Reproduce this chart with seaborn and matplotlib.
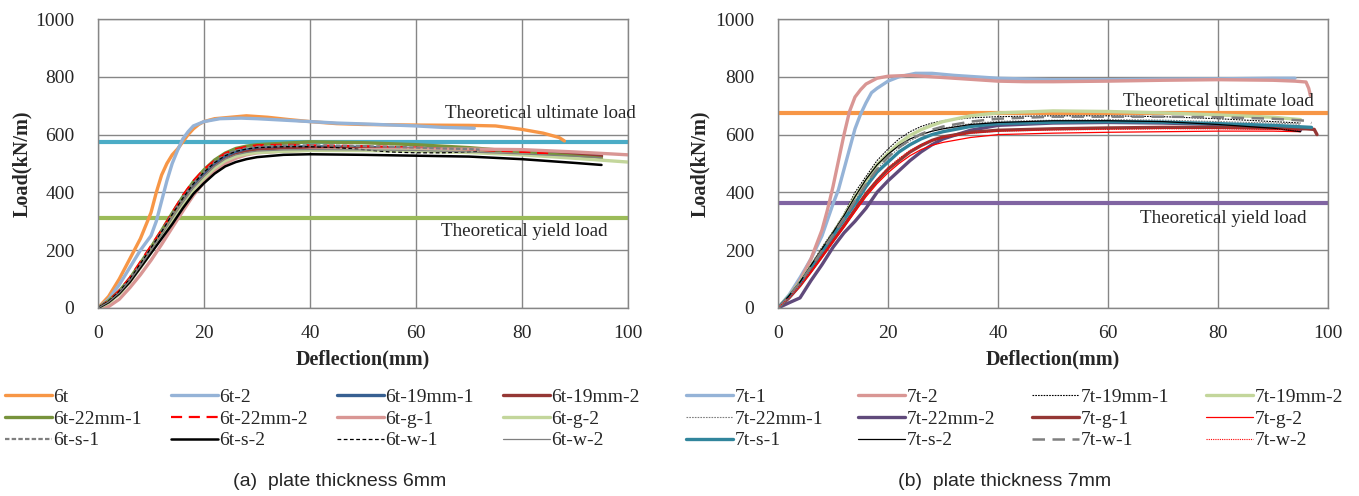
import matplotlib
matplotlib.use("Agg")
import matplotlib.pyplot as plt
from matplotlib.ticker import MultipleLocator
import seaborn as sns

# ---- data: plate thickness 6mm ----
t6_x = [0, 2, 4, 6, 8, 10, 11, 12, 13, 14, 15, 16, 17, 18, 19, 20, 22, 25, 28, 32, 36, 40, 45, 50, 60, 70, 75, 80, 84, 87, 88]
t6_y = [0, 40, 100, 170, 240, 330, 400, 460, 500, 530, 550, 575, 600, 620, 635, 645, 655, 660, 665, 660, 652, 645, 638, 635, 633, 632, 630, 618, 605, 590, 578]
t6_2_x = [0, 2, 4, 6, 8, 10, 11, 12, 13, 14, 15, 16, 17, 18, 20, 23, 27, 30, 35, 40, 45, 50, 60, 65, 71]
t6_2_y = [0, 30, 80, 140, 200, 250, 300, 370, 440, 500, 545, 585, 610, 630, 645, 655, 657, 655, 650, 645, 640, 637, 630, 625, 622]

c6_x = [0, 2, 4, 6, 8, 10, 12, 14, 16, 18, 20, 22, 24, 26, 28, 30, 35, 40, 50, 60, 70, 80, 90, 95]
t6_19_1_y = [0, 22, 55, 98, 150, 205, 260, 320, 375, 425, 465, 500, 525, 540, 548, 553, 557, 558, 556, 552, 547, 540, 533, 528]
t6_19_2_y = [0, 20, 50, 92, 142, 195, 250, 308, 362, 412, 452, 488, 513, 530, 540, 546, 551, 552, 552, 550, 545, 537, 530, 525]
t6_22_1_y = [0, 25, 58, 102, 155, 210, 268, 328, 385, 437, 478, 512, 536, 552, 560, 565, 570, 575, 572, 565, 555, 540, 525, 518]
t6_s_2_y = [0, 20, 50, 90, 140, 190, 240, 290, 345, 395, 432, 465, 490, 505, 515, 522, 530, 532, 530, 527, 524, 515, 502, 495]
t6_w_2_y = [0, 21, 52, 94, 145, 198, 252, 310, 365, 415, 455, 490, 515, 530, 538, 543, 547, 548, 547, 545, 540, 533, 525, 520]

t6_22_2_x = [0, 2, 4, 6, 8, 10, 12, 14, 16, 18, 20, 22, 24, 26, 28, 30, 35, 40, 50, 60, 70, 80, 85]
t6_22_2_y = [0, 25, 60, 105, 160, 215, 270, 330, 390, 440, 480, 510, 535, 550, 558, 563, 565, 563, 560, 555, 548, 540, 535]

cg_x = [0, 2, 4, 6, 8, 10, 12, 14, 16, 18, 20, 22, 24, 26, 28, 30, 35, 40, 50, 60, 70, 80, 90, 100]
t6_g_1_y = [0, 5, 30, 70, 115, 165, 220, 278, 335, 390, 435, 472, 500, 518, 530, 537, 543, 546, 548, 550, 550, 548, 540, 530]
t6_g_2_y = [0, 18, 48, 90, 140, 192, 248, 305, 360, 410, 450, 485, 510, 525, 533, 538, 542, 545, 545, 543, 538, 530, 518, 505]

cs_x = [0, 2, 4, 6, 8, 10, 12, 14, 16, 18, 20, 22, 24, 26, 28, 30, 35, 40, 45, 50, 55, 60, 65, 70, 72]
t6_s_1_y = [0, 22, 55, 100, 152, 208, 265, 325, 382, 432, 472, 505, 530, 545, 553, 558, 562, 563, 562, 560, 558, 555, 552, 550, 548]
t6_w_1_y = [0, 24, 57, 100, 153, 208, 264, 324, 380, 430, 470, 503, 527, 542, 550, 555, 558, 558, 555, 548, 540, 537, 537, 540, 542]

# ---- data: plate thickness 7mm ----
t7_1_x = [0, 2, 4, 6, 8, 10, 11, 12, 13, 14, 15, 16, 17, 18, 20, 22, 25, 28, 32, 36, 40, 50, 60, 70, 80, 90, 94]
t7_1_y = [0, 45, 105, 170, 250, 360, 410, 480, 550, 620, 670, 710, 745, 760, 785, 800, 812, 812, 805, 800, 795, 790, 790, 792, 793, 795, 795]
t7_2_x = [0, 2, 4, 6, 8, 9, 10, 11, 12, 13, 14, 15, 16, 18, 20, 24, 28, 32, 36, 40, 45, 50, 60, 70, 80, 90, 94, 96, 96.5, 96.8]
t7_2_y = [0, 40, 95, 170, 270, 340, 420, 510, 600, 680, 730, 755, 775, 795, 802, 805, 800, 795, 790, 785, 783, 783, 785, 788, 790, 788, 785, 782, 760, 735]

c7_x = [0, 2, 4, 6, 8, 10, 12, 14, 16, 18, 20, 22, 24, 26, 28, 30, 35, 40, 50, 60, 70, 80, 90, 95]
t7_19_1_y = [0, 45, 95, 150, 210, 265, 325, 400, 455, 510, 550, 585, 610, 628, 640, 648, 658, 662, 665, 665, 662, 655, 645, 640]
t7_19_2_y = [0, 42, 90, 145, 200, 258, 318, 385, 440, 495, 535, 570, 597, 617, 632, 645, 665, 675, 682, 680, 675, 668, 660, 652]
t7_22_1_y = [0, 40, 88, 143, 200, 256, 312, 372, 428, 480, 520, 553, 578, 598, 612, 622, 638, 646, 650, 652, 650, 645, 640, 636]
t7_22_2_y = [0, 18, 35, 95, 150, 210, 260, 300, 345, 400, 440, 475, 510, 540, 565, 585, 615, 632, 640, 642, 640, 635, 625, 615]
t7_g_2_y = [0, 33, 75, 123, 175, 228, 280, 333, 385, 430, 468, 500, 527, 548, 563, 573, 590, 600, 605, 608, 610, 612, 612, 610]
t7_s_2_y = [0, 42, 90, 148, 205, 262, 320, 385, 445, 495, 532, 562, 585, 600, 612, 620, 635, 642, 648, 648, 645, 635, 622, 610]
t7_w_2_y = [0, 36, 80, 130, 183, 236, 290, 345, 398, 445, 485, 518, 545, 565, 580, 590, 605, 612, 616, 618, 620, 620, 618, 615]

t7_g_1_x = [0, 2, 4, 6, 8, 10, 12, 14, 16, 18, 20, 22, 24, 26, 28, 30, 35, 40, 50, 60, 70, 80, 90, 96, 97.5, 98]
t7_g_1_y = [0, 35, 78, 128, 180, 233, 285, 340, 395, 440, 480, 510, 540, 562, 580, 592, 608, 615, 620, 623, 625, 625, 622, 620, 618, 600]
t7_s_1_x = [0, 2, 4, 6, 8, 10, 12, 14, 16, 18, 20, 22, 24, 26, 28, 30, 35, 40, 50, 60, 70, 80, 90, 97]
t7_s_1_y = [0, 40, 85, 140, 195, 250, 305, 360, 420, 470, 505, 540, 565, 585, 600, 610, 628, 638, 643, 645, 643, 638, 632, 625]
t7_w_1_x = [0, 2, 4, 6, 8, 10, 12, 14, 16, 18, 20, 22, 24, 26, 28, 30, 35, 40, 50, 60, 70, 80, 90, 96, 97]
t7_w_1_y = [0, 40, 87, 142, 198, 254, 310, 370, 428, 480, 522, 556, 582, 602, 617, 628, 645, 655, 662, 662, 662, 660, 655, 648, 640]

# theoretical loads (kN/m)
ult_6, yld_6 = 575, 313
ult_7, yld_7 = 675, 365

labels_6 = ["6t", "6t-2", "6t-19mm-1", "6t-19mm-2", "6t-22mm-1", "6t-22mm-2",
            "6t-g-1", "6t-g-2", "6t-s-1", "6t-s-2", "6t-w-1", "6t-w-2"]
labels_7 = ["7t-1", "7t-2", "7t-19mm-1", "7t-19mm-2", "7t-22mm-1", "7t-22mm-2",
            "7t-g-1", "7t-g-2", "7t-s-1", "7t-s-2", "7t-w-1", "7t-w-2"]

series_6 = [(t6_x, t6_y), (t6_2_x, t6_2_y), (c6_x, t6_19_1_y), (c6_x, t6_19_2_y),
            (c6_x, t6_22_1_y), (t6_22_2_x, t6_22_2_y), (cg_x, t6_g_1_y), (cg_x, t6_g_2_y),
            (cs_x, t6_s_1_y), (c6_x, t6_s_2_y), (cs_x, t6_w_1_y), (c6_x, t6_w_2_y)]
series_7 = [(t7_1_x, t7_1_y), (t7_2_x, t7_2_y), (c7_x, t7_19_1_y), (c7_x, t7_19_2_y),
            (c7_x, t7_22_1_y), (c7_x, t7_22_2_y), (t7_g_1_x, t7_g_1_y), (c7_x, t7_g_2_y),
            (t7_s_1_x, t7_s_1_y), (c7_x, t7_s_2_y), (t7_w_1_x, t7_w_1_y), (c7_x, t7_w_2_y)]

# (color, linewidth, linestyle)
styles_6 = [("#F79646", 2.4, "-"), ("#95B3D7", 2.4, "-"), ("#376092", 2.4, "-"), ("#953735", 2.4, "-"),
            ("#77933C", 2.4, "-"), ("#FF0000", 1.6, (0, (5, 3))), ("#D99694", 2.4, "-"), ("#C3D69B", 2.4, "-"),
            ("#7F7F7F", 1.6, (0, (2, 1))), ("#000000", 1.8, "-"), ("#000000", 0.9, (0, (3, 2))), ("#7F7F7F", 0.9, "-")]
styles_7 = [("#95B3D7", 2.4, "-"), ("#D99694", 2.4, "-"), ("#000000", 0.8, (0, (1.5, 1))), ("#C3D69B", 2.4, "-"),
            ("#7F7F7F", 0.8, (0, (1.5, 1))), ("#604A7B", 2.4, "-"), ("#953735", 2.4, "-"), ("#FF0000", 0.9, "-"),
            ("#31859C", 2.4, "-"), ("#000000", 0.9, "-"), ("#7F7F7F", 1.8, (0, (5, 3))), ("#FF0000", 0.8, (0, (1, 1)))]

sns.set_style("white")
plt.rcParams["font.family"] = ["Liberation Serif", "DejaVu Serif"]

fig = plt.figure(figsize=(13.59, 4.96), dpi=100)
ax_a = fig.add_axes([98 / 1359, 1 - 308 / 496, 530 / 1359, 289 / 496])
ax_b = fig.add_axes([778 / 1359, 1 - 308 / 496, 550 / 1359, 289 / 496])

GRID = "#868686"


def draw_panel(ax, series, styles, labels, ult, yld, ult_color, yld_color, ult_text_xy, yld_text_xy):
    for (xs, ys), (col, lw, ls), lab in zip(series, styles, labels):
        sns.lineplot(x=xs, y=ys, ax=ax, color=col, lw=lw, linestyle=ls, label=lab,
                     sort=False, estimator=None, legend=False)
    ax.axhline(ult, color=ult_color, lw=3, zorder=1)
    ax.axhline(yld, color=yld_color, lw=3, zorder=1)
    ax.text(*ult_text_xy, "Theoretical ultimate load", fontsize=13.7, ha="left", va="center")
    ax.text(*yld_text_xy, "Theoretical yield load", fontsize=13.7, ha="left", va="center")

    ax.set_xlim(0, 100)
    ax.set_ylim(0, 1000)
    ax.xaxis.set_major_locator(MultipleLocator(20))
    ax.xaxis.set_minor_locator(MultipleLocator(1))
    ax.yaxis.set_major_locator(MultipleLocator(200))
    ax.grid(True, which="major", color=GRID, lw=1)
    ax.set_axisbelow(True)
    for sp in ax.spines.values():
        sp.set_color(GRID)
        sp.set_linewidth(1)
    ax.tick_params(which="major", direction="out", length=5, color=GRID, labelsize=14)
    ax.tick_params(axis="y", which="major", pad=12)
    ax.tick_params(axis="x", which="major", pad=7)
    ax.tick_params(axis="x", which="minor", direction="in", length=3, color=GRID, width=0.8)
    ax.set_xlabel("Deflection(mm)", fontsize=14.5, fontweight="bold")
    ax.set_ylabel("Load(kN/m)", fontsize=14.5, fontweight="bold")
    ax.xaxis.set_label_coords(0.5, -0.145)


draw_panel(ax_a, series_6, styles_6, labels_6, ult_6, yld_6, "#4BACC6", "#9BBB59", (65.5, 672), (64.8, 265))
draw_panel(ax_b, series_7, styles_7, labels_7, ult_7, yld_7, "#F79646", "#8064A2", (62.8, 714), (65.9, 310))
ax_a.yaxis.set_label_coords((32 - 98) / 530, 0.5)
ax_b.yaxis.set_label_coords((710 - 778) / 550, 0.5)


def add_legend(ax, labels, col_x, top_y):
    handles = ax.get_lines()[:len(labels)]
    for j in range(4):
        fig.legend(handles[j::4], labels[j::4], loc="upper left",
                   bbox_to_anchor=(col_x[j] / 1359, 1 - top_y / 496),
                   frameon=False, fontsize=14, handlelength=2.4,
                   handletextpad=0.1, labelspacing=0.22, borderpad=0, borderaxespad=0)


add_legend(ax_a, labels_6, [5, 171, 337, 503], 388)
add_legend(ax_b, labels_7, [686, 858, 1032, 1206], 388)

cap_font = ["Liberation Sans Narrow", "Liberation Sans", "DejaVu Sans"]
fig.text(340 / 1359, 1 - 482 / 496, "(a)  plate thickness 6mm", ha="center", va="center",
         fontsize=14, family=cap_font)
fig.text(1005 / 1359, 1 - 482 / 496, "(b)  plate thickness 7mm", ha="center", va="center",
         fontsize=14, family=cap_font)

fig.savefig("out.png", dpi=100)
